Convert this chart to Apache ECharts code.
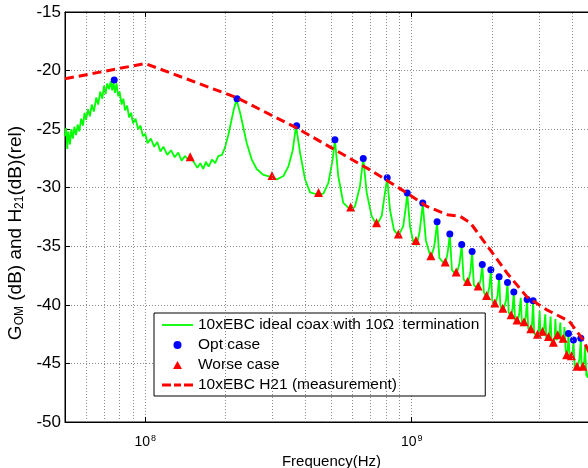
<!DOCTYPE html>
<html>
<head>
<meta charset="utf-8">
<script src="https://cdn.jsdelivr.net/npm/echarts@6/dist/echarts.min.js"></script>
<style>
html,body{margin:0;padding:0;background:#fff;}
#chart{width:588px;height:468px;}
</style>
</head>
<body>
<div id="chart"></div>
<script>
// frequency range of the plot (Hz) and dB range
var xMin = 5e7, xMax = 5e9;
var yMin = -50, yMax = -15;
// minor log grid lines (2..9 of each decade)
var minorGrid = [6e7, 7e7, 8e7, 9e7, 2e8, 3e8, 4e8, 5e8, 6e8, 7e8, 8e8, 9e8, 2e9, 3e9, 4e9];

var legendNames = ['10xEBC ideal coax with 10\u03A9  termination', 'Opt case', 'Worse case', '10xEBC H21 (measurement)'];

// green: simulated ideal coax, [freq, dB]
var coaxSim = [
  [5.00e7,-25.6],[5.05e7,-24.9],[5.10e7,-26.7],[5.15e7,-25.2],[5.22e7,-26.3],[5.28e7,-25.0],[5.35e7,-25.8],
  [5.42e7,-24.8],[5.50e7,-25.5],[5.58e7,-24.6],[5.66e7,-25.2],[5.75e7,-24.1],[5.84e7,-24.7],[5.92e7,-23.6],
  [6.00e7,-24.2],[6.10e7,-23.3],[6.20e7,-23.9],[6.30e7,-22.9],[6.42e7,-23.5],[6.55e7,-22.3],[6.66e7,-22.9],
  [6.78e7,-21.8],[6.90e7,-22.4],[7.00e7,-21.3],[7.10e7,-22.0],[7.20e7,-21.1],[7.32e7,-21.6],[7.42e7,-20.9],
  [7.52e7,-21.7],[7.60e7,-21.0],[7.70e7,-21.9],[7.80e7,-21.1],[7.92e7,-22.2],[8.02e7,-21.8],[8.15e7,-22.9],
  [8.28e7,-22.4],[8.40e7,-23.4],[8.55e7,-23.0],[8.70e7,-24.0],[8.85e7,-23.6],[9.00e7,-24.5],[9.20e7,-24.1],
  [9.40e7,-25.0],[9.60e7,-24.7],[9.80e7,-25.6],[1.00e8,-25.4],[1.02e8,-26.2],[1.05e8,-25.8],[1.08e8,-26.5],
  [1.11e8,-26.1],[1.14e8,-26.9],[1.17e8,-26.5],[1.21e8,-27.2],[1.25e8,-26.8],[1.29e8,-27.4],[1.33e8,-27.0],
  [1.37e8,-27.7],[1.41e8,-27.3],[1.45e8,-27.6],[1.49e8,-27.5],[1.53e8,-27.9],[1.57e8,-28.3],[1.61e8,-27.9],
  [1.65e8,-28.4],[1.69e8,-27.8],[1.73e8,-28.2],[1.78e8,-27.6],[1.83e8,-27.9],[1.88e8,-27.3],[1.94e8,-27.2],
  [1.99e8,-26.6],[2.05e8,-25.5],[2.10e8,-24.4],[2.15e8,-23.3],[2.20e8,-22.5],[2.27e8,-23.6],[2.405e8,-26.2],
  [2.51e8,-27.6],[2.62e8,-28.4],[2.776e8,-28.9],[2.985e8,-29.1],[3.116e8,-29.3],[3.30e8,-29.0],[3.444e8,-28.2],
  [3.578e8,-26.8],[3.68e8,-24.7],[3.81e8,-27.0],[3.98e8,-29.3],[4.155e8,-30.4],[4.46e8,-30.6],[4.66e8,-30.5],
  [4.865e8,-29.6],[5.05e8,-27.6],[5.15e8,-25.9],[5.30e8,-29.0],[5.535e8,-31.3],[5.78e8,-31.7],[5.95e8,-31.9],
  [6.125e8,-31.6],[6.39e8,-29.9],[6.58e8,-27.5],[6.775e8,-30.4],[7.07e8,-32.4],[7.39e8,-33.2],[7.715e8,-32.4],
  [7.94e8,-30.4],[8.09e8,-29.2],[8.29e8,-31.9],[8.58e8,-33.6],[8.90e8,-34.1],[9.29e8,-33.3],[9.51e8,-31.6],
  [9.62e8,-30.5],[9.85e8,-33.3],[1.013e9,-34.6],[1.043e9,-34.9],[1.07e9,-33.8],[1.10e9,-31.4],[1.13e9,-34.5],
  [1.18e9,-36.0],[1.215e9,-35.0],[1.245e9,-33.0],[1.27e9,-36.0],[1.336e9,-36.6],[1.365e9,-35.5],[1.39e9,-34.0],
  [1.415e9,-37.0],[1.468e9,-37.5],[1.51e9,-36.5],[1.54e9,-34.9],[1.565e9,-37.8],[1.619e9,-38.3],[1.66e9,-37.2],
  [1.685e9,-35.5],[1.71e9,-38.3],[1.776e9,-38.7],[1.815e9,-37.8],[1.84e9,-36.6],[1.865e9,-38.9],[1.909e9,-39.5],
  [1.955e9,-38.5],[1.981e9,-37.1],[2.005e9,-39.6],[2.05e9,-40.1],[2.10e9,-39.2],[2.128e9,-37.6],[2.15e9,-40.0],
  [2.197e9,-40.6],[2.26e9,-39.6],[2.288e9,-38.1],[2.31e9,-40.6],[2.36e9,-41.1],[2.39e9,-40.3],[2.416e9,-38.9],
  [2.44e9,-41.2],[2.485e9,-41.6],[2.53e9,-40.8],[2.565e9,-39.4],[2.59e9,-41.5],[2.64e9,-41.8],[2.68e9,-41.0],
  [2.71e9,-39.6],[2.735e9,-42.0],[2.798e9,-42.4],[2.83e9,-41.5],[2.854e9,-39.7],[2.88e9,-42.4],[2.965e9,-42.8],
  [2.99e9,-42.2],[3.02e9,-40.5],[3.04e9,-42.5],[3.095e9,-42.6],[3.14e9,-41.9],[3.17e9,-40.8],[3.20e9,-42.9],
  [3.26e9,-43.0],[3.29e9,-42.4],[3.32e9,-41.0],[3.35e9,-43.3],[3.40e9,-43.5],[3.44e9,-42.7],[3.46e9,-41.2],
  [3.49e9,-43.0],[3.53e9,-43.0],[3.58e9,-42.6],[3.61e9,-41.5],[3.64e9,-43.2],[3.70e9,-43.2],[3.72e9,-43.0],
  [3.74e9,-41.9],[3.78e9,-43.8],[3.815e9,-44.5],[3.85e9,-43.8],[3.873e9,-42.5],[3.92e9,-44.6],[3.974e9,-44.6],
  [4.02e9,-44.0],[4.045e9,-43.1],[4.09e9,-45.4],[4.17e9,-45.5],[4.26e9,-44.6],[4.31e9,-42.9],[4.34e9,-45.4],
  [4.39e9,-45.5],[4.44e9,-44.8],[4.47e9,-43.5],[4.52e9,-46.0],[4.58e9,-46.2],[4.65e9,-45.0]
];

// blue dots: resonance peaks (opt case)
var optCase = [
  [7.65e7,-20.8],[2.21e8,-22.4],[3.70e8,-24.7],[5.15e8,-25.9],[6.58e8,-27.5],[8.09e8,-29.15],[9.62e8,-30.45],
  [1.10e9,-31.3],[1.245e9,-32.9],[1.39e9,-33.95],[1.54e9,-34.85],[1.685e9,-35.45],[1.84e9,-36.55],[1.981e9,-37.0],
  [2.128e9,-37.6],[2.288e9,-38.1],[2.416e9,-38.9],[2.71e9,-39.55],[2.854e9,-39.65],[3.873e9,-42.45],[4.045e9,-43.0],
  [4.31e9,-42.85]
];

// red triangles: anti-resonances (worse case)
var worseCase = [
  [1.475e8,-27.35],[2.99e8,-28.95],[4.47e8,-30.4],[5.90e8,-31.65],[7.38e8,-33.0],[8.91e8,-33.95],[1.037e9,-34.5],
  [1.18e9,-35.8],[1.336e9,-36.35],[1.468e9,-37.2],[1.619e9,-38.0],[1.776e9,-38.4],[1.909e9,-39.2],[2.05e9,-39.85],
  [2.197e9,-40.3],[2.36e9,-40.85],[2.485e9,-41.3],[2.64e9,-41.45],[2.798e9,-42.05],[2.965e9,-42.5],[3.095e9,-42.25],
  [3.26e9,-42.7],[3.40e9,-43.2],[3.53e9,-42.55],[3.70e9,-42.85],[3.815e9,-44.25],[3.974e9,-44.35],[4.17e9,-45.25],
  [4.39e9,-45.25]
];

// red dashed: H21 measurement envelope
var h21Meas = [
  [5.0e7,-20.7],[1.0e8,-19.4],[2.2e8,-22.3],[3.7e8,-24.9],[5.0e8,-26.6],[7.0e8,-28.5],[9.6e8,-30.45],
  [1.14e9,-31.6],[1.36e9,-32.3],[1.52e9,-32.45],[1.66e9,-33.0],[1.97e9,-35.3],[2.28e9,-37.3],[2.7e9,-39.3],
  [3.2e9,-40.4],[3.9e9,-41.4],[4.4e9,-43.0],[4.8e9,-44.8]
];

var font = "'Liberation Sans', Arial, sans-serif";
var gridLine = {color: '#8a8a8a', width: 1, type: [1, 2]};

var myChart = echarts.init(document.getElementById('chart'));
myChart.setOption({
    animation: false,
    backgroundColor: '#fff',
    textStyle: {fontFamily: font},
    grid: {
        left: 65, top: 12, right: -10, bottom: 46,
        containLabel: false, outerBoundsMode: 'none',
        show: true, borderColor: '#000', borderWidth: 1, backgroundColor: 'transparent'
    },
    legend: {
        data: [
            {name: legendNames[0], icon: 'path://M0,0H31V1.8H0Z'},
            {name: legendNames[1], icon: 'circle'},
            {name: legendNames[2], icon: 'path://M4.5,0L9,8H0Z'},
            {name: legendNames[3], icon: 'path://M0,0H9V3H0Z M12,0H19V3H12Z M22,0H31V3H22Z'}
        ],
        orient: 'vertical',
        left: 154,
        top: 313,
        padding: [4, 6, 3, 8],
        itemGap: 4,
        itemWidth: 31,
        itemHeight: 8,
        symbolKeepAspect: true,
        backgroundColor: '#fff',
        borderColor: '#000',
        borderWidth: 1,
        borderRadius: 0,
        textStyle: {fontFamily: font, fontSize: 15.5, color: '#000', lineHeight: 16},
        selectedMode: false
    },
    xAxis: [{
        type: 'log',
        logBase: 10,
        min: xMin,
        max: xMax,
        name: 'Frequency(Hz)',
        nameLocation: 'middle',
        nameGap: 28,
        nameTextStyle: {fontFamily: font, fontSize: 15, color: '#000'},
        axisLine: {show: true, onZero: false, lineStyle: {color: '#000', width: 1}},
        axisTick: {show: true, inside: true, length: 5, lineStyle: {color: '#000'}},
        axisLabel: {
            color: '#000', fontSize: 14, margin: 12, fontFamily: font,
            showMinLabel: false, showMaxLabel: false,
            formatter: function (v) {
                var e = Math.log10(v);
                if (Math.abs(e - Math.round(e)) > 1e-6) return '';
                return '10{s|' + Math.round(e) + '}';
            },
            rich: {s: {fontSize: 9, verticalAlign: 'top', padding: [0, 0, 8, 1], color: '#000', fontFamily: font}}
        },
        splitLine: {show: true, lineStyle: gridLine}
    }, {
        type: 'log',
        logBase: 10,
        min: xMin,
        max: xMax,
        position: 'top',
        axisLine: {show: true, onZero: false, lineStyle: {color: '#000', width: 1}},
        axisTick: {show: true, inside: true, length: 5, lineStyle: {color: '#000'}},
        axisLabel: {show: false},
        splitLine: {show: false}
    }],
    yAxis: {
        type: 'value',
        min: yMin,
        max: yMax,
        interval: 5,
        name: 'G{sub|OM} (dB) and H{sub|21}(dB)(rel)',
        nameLocation: 'middle',
        nameRotate: 90,
        nameGap: 35,
        nameTextStyle: {
            fontFamily: font, fontSize: 19, color: '#000',
            padding: [0, 32, 0, 0],
            rich: {sub: {fontSize: 12, verticalAlign: 'bottom', padding: [8, 0, 0, 0], color: '#000', fontFamily: font}}
        },
        axisLine: {show: true, onZero: false, lineStyle: {color: '#000', width: 1}},
        axisTick: {show: true, inside: true, length: 5, lineStyle: {color: '#000'}},
        axisLabel: {color: '#000', fontSize: 17, margin: 4, fontFamily: font},
        splitLine: {show: true, lineStyle: gridLine}
    },
    series: [
        {
            // helper series: only carries the minor log grid lines
            name: 'minorGrid',
            type: 'line',
            data: [],
            z: 1,
            silent: true,
            markLine: {
                silent: true,
                symbol: 'none',
                label: {show: false},
                lineStyle: gridLine,
                data: minorGrid.map(function (f) { return {xAxis: f}; })
            }
        },
        {
            name: legendNames[0],
            type: 'line',
            data: coaxSim,
            symbol: 'none',
            z: 2,
            lineStyle: {color: '#00ff00', width: 1.8},
            itemStyle: {color: '#00ff00'}
        },
        {
            name: legendNames[1],
            type: 'scatter',
            data: optCase,
            symbol: 'circle',
            symbolSize: 7,
            z: 3,
            itemStyle: {color: '#0000ff', opacity: 1}
        },
        {
            name: legendNames[2],
            type: 'scatter',
            data: worseCase,
            symbol: 'triangle',
            symbolSize: 9,
            z: 4,
            itemStyle: {color: '#ff0000', opacity: 1}
        },
        {
            name: legendNames[3],
            type: 'line',
            data: h21Meas,
            symbol: 'none',
            z: 5,
            lineStyle: {color: '#ff0000', width: 3, type: [9, 5]},
            itemStyle: {color: '#ff0000'}
        }
    ]
});
</script>
</body>
</html>
